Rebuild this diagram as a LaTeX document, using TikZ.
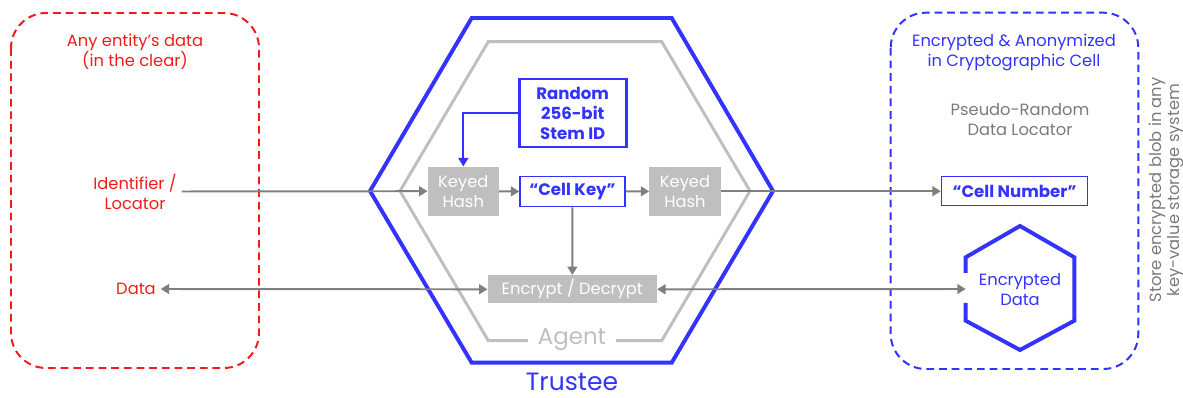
\documentclass[tikz,border=0pt]{standalone}
\usepackage{fontspec}
\setmainfont{Poppins}
\usetikzlibrary{arrows.meta}
\definecolor{tblue}{HTML}{3333FF}
\definecolor{tred}{HTML}{F21B1B}
\definecolor{tbox}{HTML}{BFBFBF}
\definecolor{tline}{HTML}{7F7F7F}
\definecolor{tnote}{HTML}{7A7A7A}
\tikzset{
  flow/.style={draw=tline, line width=1.4pt, -{Triangle[width=7pt,length=6pt]}},
  twoway/.style={draw=tline, line width=1.4pt, {Triangle[width=7pt,length=6pt]}-{Triangle[width=7pt,length=6pt]}},
  graybox/.style={fill=tbox, text=white, align=center, inner sep=0pt},
  bluebox/.style={draw=tblue, text=tblue, font=\fontsize{11.8}{14.2}\selectfont\bfseries, align=center, inner sep=0pt},
  redtxt/.style={text=tred, align=center},
  zone/.style={line width=1.4pt, dash pattern=on 5.5pt off 3.5pt, rounded corners=25pt},
}
\begin{document}
\begin{tikzpicture}[x=0.025cm, y=-0.025cm, font=\fontsize{11.6}{14.2}\selectfont]
      \useasboundingbox (0,0) rectangle (1183,398);
      % entity side
      \draw[zone, draw=tred] (11,13) rectangle (259,368);
      \node[redtxt] (entity) at (135,52) {Any entity’s data\\(in the clear)};
      \node[redtxt] (ident) at (135,191.5) {Identifier /\\Locator};
      \node[redtxt] (data) at (136,289) {Data};
      % trustee and agent
      \draw[tblue, line width=2.8pt, line join=miter] (370,191) -- (471.7,18) -- (671.7,18) -- (773,191) -- (671.7,362.7) -- (471.7,362.7) -- cycle;
      \draw[tbox, line width=2.1pt] (400,191) -- (488.3,41.7) -- (661.7,41.7) -- (750,191) -- (661.7,340.7) -- (488.3,340.7) -- cycle;
      \node[fill=white, text=tbox, font=\fontsize{16.3}{18}\selectfont, inner xsep=7pt] (agent) at (572,340) {Agent};
      \node[text=tblue, font=\fontsize{17.8}{20}\selectfont, inner sep=0pt, anchor=base] (trustee) at (572,391) {Trustee};
      \node[bluebox, line width=2pt, minimum width=2.675cm, minimum height=1.7cm] (stem) at (572.7,113) {Random\\256-bit\\Stem ID};
      \node[graybox, minimum width=1.775cm, minimum height=1.225cm] (kh1) at (463.3,191.2) {Keyed\\Hash};
      \node[bluebox, line width=1pt, minimum width=2.625cm, minimum height=0.75cm] (cellkey) at (572.5,191.7) {“Cell Key”};
      \node[graybox, minimum width=1.775cm, minimum height=1.225cm] (kh2) at (685,191.2) {Keyed\\Hash};
      \node[graybox, minimum width=4.225cm, minimum height=0.7cm] (crypt) at (572.3,289.3) {Encrypt / Decrypt};
      % cell side
      \draw[zone, draw=tblue] (890.7,12.7) rectangle (1138.3,369);
      \node[text=tblue, align=center] (cell) at (1014,52.5) {Encrypted \& Anonymized\\in Cryptographic Cell};
      \node[text=tnote, align=center] (locator) at (1020,119.5) {Pseudo-Random\\Data Locator};
      \node[bluebox, line width=1pt, minimum width=3.65cm, minimum height=0.725cm] (cellnum) at (1014.5,191.2) {“Cell Number”};
      \draw[tblue, line width=2.8pt] (965.7,273) -- (965.7,257.3) -- (1020,226) -- (1074.3,257.3) -- (1074.3,320.7) -- (1020,350) -- (965.7,320.7) -- (965.7,303);
      \coordinate (blob) at (965.7,289);
      \node[text=tblue, align=center] (encdata) at (1020,290) {Encrypted\\Data};
      \node[text=tnote, align=center, rotate=90, inner sep=0pt, font=\fontsize{11.6}{12.8}\selectfont] (store) at (1166,190) {Store encrypted blob in any\\key-value storage system};
      % connectors
      \draw[flow] (ident.east) -- (kh1.west);
      \draw[flow] (kh1) -- (cellkey);
      \draw[flow] (cellkey) -- (kh2);
      \draw[flow] (kh2.east) -- (cellnum.west);
      \draw[flow] (cellkey) -- (crypt);
      \draw[draw=tblue, line width=1.4pt, -{Triangle[width=7pt,length=6pt]}] (stem.west) -| (kh1.north);
      \draw[twoway] (data.east) -- (crypt.west);
      \draw[twoway] (crypt.east) -- (blob);
\end{tikzpicture}
\end{document}
